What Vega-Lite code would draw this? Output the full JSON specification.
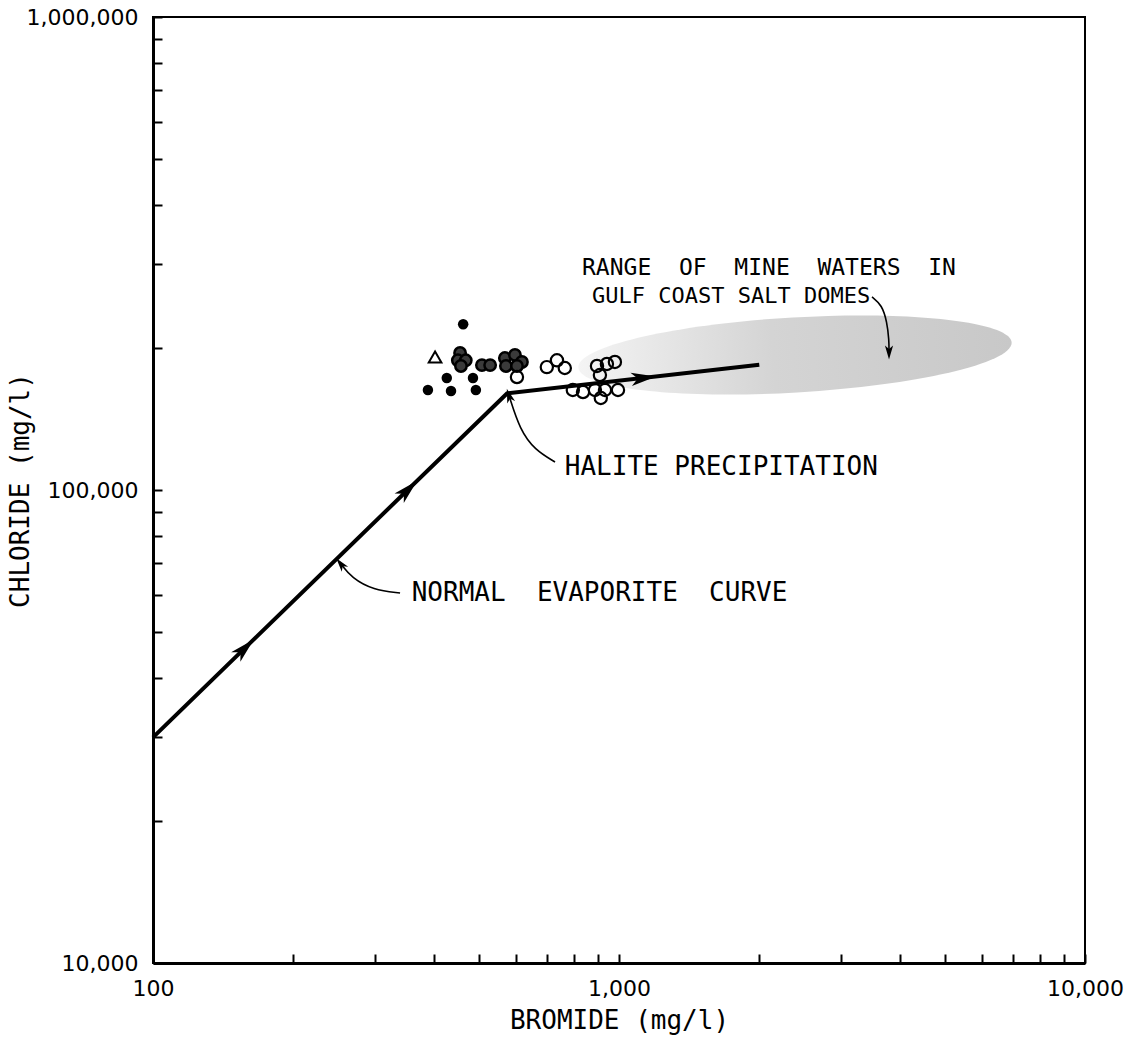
{
  "$schema": "https://vega.github.io/schema/vega-lite/v6.json",
  "width": 932,
  "height": 946,
  "autosize": {"type": "none"},
  "padding": {"left": 153, "top": 17, "right": 49, "bottom": 80},
  "background": "white",
  "config": {
    "view": {"stroke": "black", "strokeWidth": 2},
    "axis": {
      "grid": false,
      "domainWidth": 3,
      "domainColor": "black",
      "tickColor": "black",
      "tickWidth": 2,
      "tickSize": -9,
      "labelFont": "DejaVu Sans",
      "labelFontSize": 22,
      "labelColor": "black",
      "labelFlush": false,
      "labelOverlap": false,
      "titleFont": "DejaVu Sans Mono",
      "titleFontSize": 26,
      "titleFontWeight": "normal",
      "titleColor": "black"
    }
  },
  "datasets": {
    "points": [
      {"br": 463, "cl": 224000, "type": "filled"},
      {"br": 389, "cl": 162700, "type": "filled"},
      {"br": 436, "cl": 161900, "type": "filled"},
      {"br": 493, "cl": 162700, "type": "filled"},
      {"br": 427, "cl": 172500, "type": "filled"},
      {"br": 486, "cl": 172500, "type": "filled"},
      {"br": 403, "cl": 191000, "type": "triangle"},
      {"br": 456, "cl": 194800, "type": "hatched"},
      {"br": 451, "cl": 188000, "type": "hatched"},
      {"br": 469, "cl": 188000, "type": "hatched"},
      {"br": 458, "cl": 182900, "type": "hatched"},
      {"br": 508, "cl": 183700, "type": "hatched"},
      {"br": 529, "cl": 183700, "type": "hatched"},
      {"br": 569, "cl": 190100, "type": "hatched"},
      {"br": 598, "cl": 193000, "type": "hatched"},
      {"br": 619, "cl": 186500, "type": "hatched"},
      {"br": 572, "cl": 182900, "type": "hatched"},
      {"br": 604, "cl": 182900, "type": "hatched"},
      {"br": 604, "cl": 173300, "type": "open"},
      {"br": 700, "cl": 181900, "type": "open"},
      {"br": 736, "cl": 188000, "type": "open"},
      {"br": 765, "cl": 181100, "type": "open"},
      {"br": 796, "cl": 162700, "type": "open"},
      {"br": 837, "cl": 161100, "type": "open"},
      {"br": 897, "cl": 182900, "type": "open"},
      {"br": 942, "cl": 184700, "type": "open"},
      {"br": 980, "cl": 186500, "type": "open"},
      {"br": 910, "cl": 175000, "type": "open"},
      {"br": 888, "cl": 162700, "type": "open"},
      {"br": 933, "cl": 162700, "type": "open"},
      {"br": 995, "cl": 162700, "type": "open"},
      {"br": 914, "cl": 156500, "type": "open"}
    ]
  },
  "encoding": {
    "x": {
      "field": "br",
      "type": "quantitative",
      "scale": {"type": "log", "domain": [100, 10000], "nice": false},
      "axis": {
        "title": "BROMIDE (mg/l)",
        "values": [100, 200, 300, 400, 500, 600, 700, 800, 900, 1000, 2000, 3000, 4000, 5000, 6000, 7000, 8000, 9000, 10000],
        "labelExpr": "datum.value == 100 || datum.value == 1000 || datum.value == 10000 ? format(datum.value, ',') : ''",
        "labelPadding": 24,
        "titleX": 466,
        "titleY": 57,
        "titleBaseline": "middle"
      }
    },
    "y": {
      "field": "cl",
      "type": "quantitative",
      "scale": {"type": "log", "domain": [10000, 1000000], "nice": false},
      "axis": {
        "title": "CHLORIDE (mg/l)",
        "values": [10000, 20000, 30000, 40000, 50000, 60000, 70000, 80000, 90000, 100000, 200000, 300000, 400000, 500000, 600000, 700000, 800000, 900000, 1000000],
        "labelExpr": "datum.value == 10000 || datum.value == 100000 || datum.value == 1000000 ? format(datum.value, ',') : ''",
        "labelPadding": 24,
        "titleX": -133,
        "titleY": 473,
        "titleAngle": -90,
        "titleBaseline": "middle",
        "titleAlign": "center"
      }
    }
  },
  "layer": [
    {
      "data": {"values": [{"br": 2386, "cl": 193000}]},
      "mark": {
        "type": "point",
        "shape": "M-1,0A1,0.173,0,1,1,1,0A1,0.173,0,1,1,-1,0Z",
        "size": 188356,
        "angle": 356.7,
        "filled": true,
        "opacity": 1,
        "strokeWidth": 0,
        "fill": {
          "gradient": "linear",
          "x1": 0, "y1": 0, "x2": 1, "y2": 0,
          "stops": [
            {"offset": 0, "color": "#f4f4f4"},
            {"offset": 0.45, "color": "#d4d4d4"},
            {"offset": 1, "color": "#c8c8c8"}
          ]
        }
      }
    },
    {
      "data": {"values": [
        {"br": 100, "cl": 30000, "i": 0},
        {"br": 575, "cl": 160000, "i": 1},
        {"br": 2000, "cl": 184000, "i": 2}
      ]},
      "mark": {"type": "line", "color": "black", "strokeWidth": 4},
      "encoding": {"order": {"field": "i", "type": "quantitative"}}
    },
    {
      "data": {"values": [
        {"br": 157, "cl": 46200, "ang": 45.8},
        {"br": 352, "cl": 100000, "ang": 45.8},
        {"br": 1126, "cl": 172500, "ang": 83.5}
      ]},
      "mark": {"type": "point", "shape": "M0,-1L0.5,0.9L0,0.4L-0.5,0.9Z", "size": 700, "filled": true, "color": "black", "opacity": 1},
      "encoding": {"angle": {"field": "ang", "type": "quantitative", "scale": null}}
    },
    {
      "data": {"name": "points"},
      "transform": [{"filter": "datum.type == 'filled'"}],
      "mark": {"type": "circle", "size": 110, "color": "black", "opacity": 1}
    },
    {
      "data": {"name": "points"},
      "transform": [{"filter": "datum.type == 'hatched'"}],
      "mark": {"type": "point", "shape": "circle", "size": 130, "filled": false, "fill": "#3a3a3a", "fillOpacity": 1, "stroke": "black", "strokeWidth": 2.5, "opacity": 1}
    },
    {
      "data": {"name": "points"},
      "transform": [{"filter": "datum.type == 'open'"}],
      "mark": {"type": "point", "shape": "circle", "size": 150, "fill": "white", "fillOpacity": 0, "stroke": "black", "strokeWidth": 2.2, "opacity": 1}
    },
    {
      "data": {"name": "points"},
      "transform": [{"filter": "datum.type == 'triangle'"}],
      "mark": {"type": "point", "shape": "triangle-up", "size": 160, "stroke": "black", "strokeWidth": 2, "opacity": 1}
    },
    {
      "data": {"values": [
        {"br": 339, "cl": 60550, "i": 0, "g": "a"},
        {"br": 297, "cl": 61450, "i": 1, "g": "a"},
        {"br": 267, "cl": 65150, "i": 2, "g": "a"},
        {"br": 253, "cl": 69760, "i": 3, "g": "a"},
        {"br": 729, "cl": 114600, "i": 0, "g": "b"},
        {"br": 660, "cl": 121500, "i": 1, "g": "b"},
        {"br": 613, "cl": 133900, "i": 2, "g": "b"},
        {"br": 581, "cl": 158100, "i": 3, "g": "b"},
        {"br": 3491, "cl": 255900, "i": 0, "g": "c"},
        {"br": 3667, "cl": 246100, "i": 1, "g": "c"},
        {"br": 3759, "cl": 226600, "i": 2, "g": "c"},
        {"br": 3797, "cl": 207600, "i": 3, "g": "c"},
        {"br": 3797, "cl": 195700, "i": 4, "g": "c"}
      ]},
      "mark": {"type": "line", "color": "black", "strokeWidth": 1.6, "interpolate": "basis"},
      "encoding": {
        "order": {"field": "i", "type": "quantitative"},
        "detail": {"field": "g", "type": "nominal"}
      }
    },
    {
      "data": {"values": [
        {"br": 253, "cl": 69760, "ang": 322},
        {"br": 581, "cl": 158100, "ang": 342},
        {"br": 3797, "cl": 195700, "ang": 180}
      ]},
      "mark": {"type": "point", "shape": "M0,-1L0.55,0.9L0,0.4L-0.55,0.9Z", "size": 220, "filled": true, "color": "black", "opacity": 1},
      "encoding": {"angle": {"field": "ang", "type": "quantitative", "scale": null}}
    },
    {
      "data": {"values": [
        {"br": 833, "cl": 294700, "label": "RANGE\u00a0\u00a0OF\u00a0\u00a0MINE\u00a0\u00a0WATERS\u00a0\u00a0IN"}
      ]},
      "mark": {"type": "text", "align": "left", "baseline": "middle", "font": "DejaVu Sans Mono", "fontSize": 23, "color": "black"},
      "encoding": {"text": {"field": "label", "type": "nominal"}}
    },
    {
      "data": {"values": [
        {"br": 875, "cl": 257200, "label": "GULF COAST SALT DOMES"}
      ]},
      "mark": {"type": "text", "align": "left", "baseline": "middle", "font": "DejaVu Sans Mono", "fontSize": 22, "color": "black"},
      "encoding": {"text": {"field": "label", "type": "nominal"}}
    },
    {
      "data": {"values": [
        {"br": 765, "cl": 111800, "label": "HALITE PRECIPITATION"},
        {"br": 359, "cl": 60550, "label": "NORMAL\u00a0\u00a0EVAPORITE\u00a0\u00a0CURVE"}
      ]},
      "mark": {"type": "text", "align": "left", "baseline": "middle", "font": "DejaVu Sans Mono", "fontSize": 26, "color": "black"},
      "encoding": {"text": {"field": "label", "type": "nominal"}}
    }
  ]
}
